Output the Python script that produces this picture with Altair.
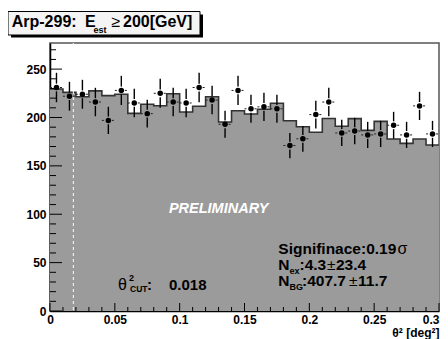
import altair as alt
import numpy as np
import pandas as pd

# ---------------- data ----------------
bin_edges = [round(i * 0.01, 2) for i in range(31)]
# background (OFF) histogram, normalised
bg_counts = [229.5, 226, 221.5, 227.5, 222.6, 224, 204.3, 213.7, 212.2, 224.6,
             205.7, 211.6, 221.5, 195.4, 207, 203.6, 208.5, 214.7, 196.7, 190.5,
             184.7, 199, 190.9, 198.8, 186.7, 196, 177.7, 173.3, 177.7, 171.5]
# ON data points
on_counts = [231, 222, 224, 216, 197, 228, 215, 204, 225, 216,
             215, 231, 218, 193, 228, 209, 211, 209, 171, 178,
             203, 216, 184, 186, 182, 183, 192, 182, 212, 183]
theta2_cut = 0.018
y_ticks_major = [0, 50, 100, 150, 200, 250]
y_ticks_minor = [v for v in range(10, 280, 10) if v % 50 != 0]
x_ticks_major = [0, 0.05, 0.1, 0.15, 0.2, 0.25, 0.3]
x_ticks_minor = [round(i * 0.01, 2) for i in range(1, 30) if i % 5 != 0]

W, H = 389, 268
FONT = "Liberation Sans"

hist = pd.DataFrame({"x": bin_edges, "v": bg_counts + [bg_counts[-1]]})
pts = pd.DataFrame({
    "x": [(a + b) / 2 for a, b in zip(bin_edges[:-1], bin_edges[1:])],
    "lo": bin_edges[:-1],
    "hi": bin_edges[1:],
    "v": on_counts,
})
pts["err"] = np.sqrt(pts["v"])
GAP = 4.0
pts["e_lo"] = pts["v"] - pts["err"]
pts["e_lo2"] = pts["v"] - GAP
pts["e_hi"] = pts["v"] + pts["err"]
pts["e_hi2"] = pts["v"] + GAP

xs = alt.Scale(domain=[0, 0.3], nice=False, zero=False)
ys = alt.Scale(domain=[0, 277], nice=False, zero=True)
xaxis = alt.Axis(values=x_ticks_major, format="~g", tickSize=0, grid=False,
                 labelFont=FONT, labelFontSize=12, labelFontWeight="bold",
                 labelColor="black", labelPadding=3, labelFlush=False,
                 labelAlign={"condition": {"test": "datum.value >= 0.3", "value": "right"},
                             "value": "center"},
                 labelOverlap=False, domainColor="black", domainWidth=1.5,
                 titleFont=FONT, titleFontSize=12, titleFontWeight="bold",
                 titleColor="black", titleAnchor="end", titleAlign="right",
                 titleBaseline="alphabetic", titleX=W, titleY=25.5)
yaxis = alt.Axis(values=y_ticks_major, format="d", tickSize=0, grid=False,
                 labelFont=FONT, labelFontSize=12, labelFontWeight="bold",
                 labelColor="black", labelPadding=4, labelBound=False,
                 labelOverlap=False, domainColor="black", domainWidth=1.5)


def X(f):
    return alt.X(f, type="quantitative", scale=xs, axis=xaxis, title="θ² [deg²]")


def Y(f):
    return alt.Y(f, type="quantitative", scale=ys, axis=yaxis, title=None)


fill = alt.Chart(hist).mark_area(interpolate="step-after", color="#9b9b9b").encode(
    x=X("x"), y=Y("v"))
outline = alt.Chart(hist).mark_line(interpolate="step-after", color="#333333",
                                    strokeWidth=1.6).encode(x=X("x"), y=Y("v"))
cut = alt.Chart(pd.DataFrame({"x": [theta2_cut]})).mark_rule(
    color="white", strokeDash=[3, 3], strokeWidth=1).encode(
    x=X("x"), y=alt.value(0), y2=alt.value(H))

ytm = alt.Chart(pd.DataFrame({"t": y_ticks_major})).mark_rule(color="black", strokeWidth=1).encode(
    y=Y("t"), x=alt.value(0), x2=alt.value(12))
ytn = alt.Chart(pd.DataFrame({"t": y_ticks_minor})).mark_rule(color="black", strokeWidth=1).encode(
    y=Y("t"), x=alt.value(0), x2=alt.value(6))
xtm = alt.Chart(pd.DataFrame({"t": x_ticks_major})).mark_rule(color="black", strokeWidth=1).encode(
    x=X("t"), y=alt.value(H), y2=alt.value(H - 8))
xtn = alt.Chart(pd.DataFrame({"t": x_ticks_minor})).mark_rule(color="black", strokeWidth=1).encode(
    x=X("t"), y=alt.value(H), y2=alt.value(H - 4))

herr = alt.Chart(pts).mark_rule(color="#222222", strokeWidth=1, strokeDash=[2, 3]).encode(
    x=X("lo"), x2="hi", y=Y("v"))
verr1 = alt.Chart(pts).mark_rule(color="black", strokeWidth=1.4).encode(
    x=X("x"), y=Y("e_lo"), y2="e_lo2")
verr2 = alt.Chart(pts).mark_rule(color="black", strokeWidth=1.4).encode(
    x=X("x"), y=Y("e_hi2"), y2="e_hi")
dots = alt.Chart(pts).mark_circle(color="black", opacity=1, size=30).encode(
    x=X("x"), y=Y("v"))

one = pd.DataFrame({"k": [0]})


def txt(s, x, y, size, weight="bold", style="normal", color="black", align="left",
        baseline="alphabetic"):
    return alt.Chart(one).mark_text(
        text=s, font=FONT, fontSize=size, fontWeight=weight, fontStyle=style,
        color=color, align=align, baseline=baseline).encode(
        x=alt.value(x), y=alt.value(y))


shadow = alt.Chart(one).mark_rect(color="black").encode(
    x=alt.value(-39), x2=alt.value(153), y=alt.value(-28.5), y2=alt.value(-5.5))
box = alt.Chart(one).mark_rect(fill="#f4f4f4", stroke="black", strokeWidth=1).encode(
    x=alt.value(-42), x2=alt.value(150), y=alt.value(-31.5), y2=alt.value(-8))

texts = [
    txt("Arp-299:", -38.3, -16.3, 16),
    txt("E", 35, -16.3, 16),
    txt("est", 43.5, -9.8, 9),
    txt("≥", 61.5, -16.3, 16, weight="normal"),
    txt("200[GeV]", 73, -16.3, 16),
    txt("PRELIMINARY", 168.7, 166, 14.5, style="italic", color="white",
        align="center", baseline="middle"),
    txt("Signifinace:0.19", 228.3, 211, 15.5),
    txt("σ", 347.5, 211, 16, weight="normal"),
    txt("N", 228.3, 227.3, 15.5),
    txt("ex", 239.5, 230.7, 9),
    txt(":4.3", 249.5, 227.3, 15.5),
    txt("±", 277, 227.3, 15.5, weight="normal"),
    txt("23.4", 286, 227.3, 15.5),
    txt("N", 228.3, 243.3, 15.5),
    txt("BG", 239.5, 247.2, 9),
    txt(":407.7", 252, 243.3, 15.5),
    txt("±", 299, 243.3, 15.5, weight="normal"),
    txt("11.7", 308, 243.3, 15.5),
    txt("θ", 68, 247, 16, weight="normal"),
    txt("2", 79, 238, 9),
    txt("CUT", 80, 248.8, 8.5),
    txt(":", 97, 247, 15),
    txt("0.018", 119, 247, 15),
]

chart = alt.layer(
    fill, outline, cut, ytm, ytn, xtm, xtn, herr, verr1, verr2, dots,
    shadow, box, *texts
).properties(
    width=W, height=H,
    autosize=alt.AutoSizeParams(type="none"),
    padding={"left": 42, "top": 35, "right": 1, "bottom": 28},
    background="white",
).configure_view(stroke="#555555", strokeWidth=1.5)

chart.save("out.html", embed_options={"renderer": "svg", "actions": False})
